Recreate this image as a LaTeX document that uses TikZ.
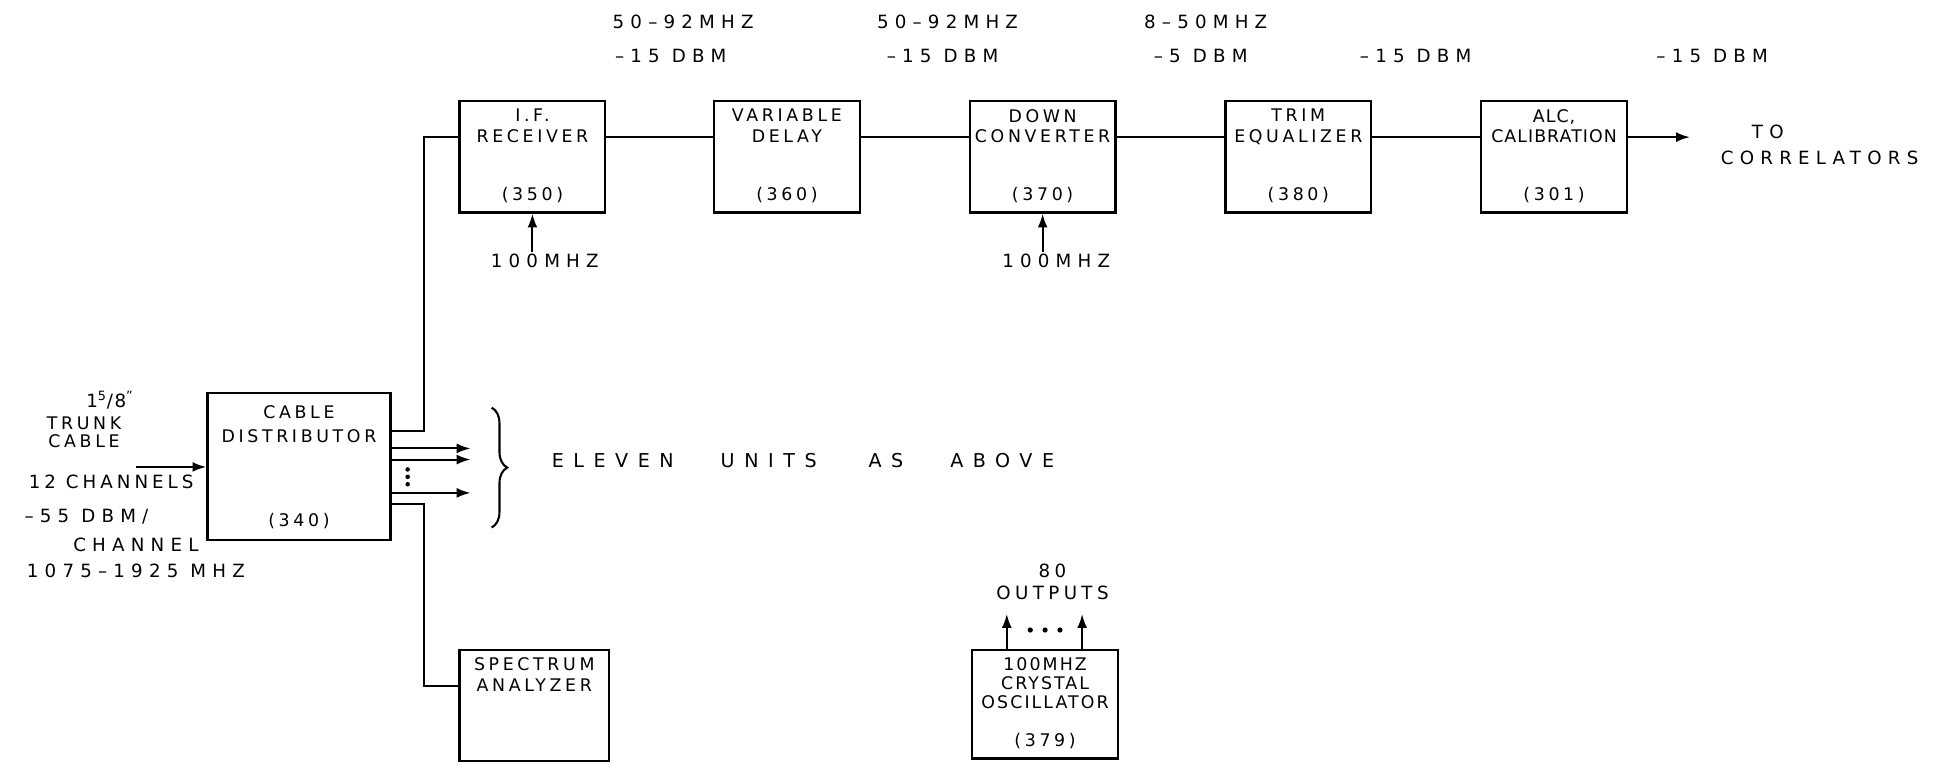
\documentclass[tikz,border=0pt]{standalone}
\usepackage{fontspec}
\setmainfont{DejaVu Sans}[LetterSpace=21]
\usepackage{tikz}
\usetikzlibrary{positioning,arrows.meta,decorations.pathreplacing,calc}

\begin{document}
\begin{tikzpicture}[
  x=0.025cm, y=-0.025cm,
  every node/.style={font=\fontsize{10}{12}\selectfont, align=center, inner sep=1pt},
  unitbox/.style={rectangle, draw, line width=1.3pt, minimum width=2.95cm,
                  minimum height=2.25cm, inner sep=0pt},
  wire/.style={line width=1.2pt},
  sig/.style={line width=1.2pt, -{Latex[length=2.8mm,width=2mm]}},
  hand/.style={font=\fontsize{10.5}{13}\selectfont\addfontfeatures{LetterSpace=34}}
]
  \useasboundingbox (0,0) rectangle (1568,618);

  \node[unitbox] (ifr) at (431,127) {};
  \node[unitbox] (vdl) at (637,127) {};
  \node[unitbox] (dcv) at (844,127) {};
  \node[unitbox] (teq) at (1051,127) {};
  \node[unitbox] (alc) at (1258,127) {};
  \node[unitbox, minimum width=3.7cm, minimum height=2.975cm] (cdist) at (242,377.5) {};
  \node[unitbox, minimum width=3.025cm] (spec) at (432.5,571) {};
  \node[unitbox, minimum height=2.2cm] (xtal) at (846,570) {};

  \node[below=4pt of ifr.north]   (ifrname) {I.F.\\RECEIVER};
  \node[above=5pt of ifr.south]   (ifrnum)  {(350)};
  \node[below=4pt of vdl.north]   (vdlname) {VARIABLE\\DELAY};
  \node[above=5pt of vdl.south]   (vdlnum)  {(360)};
  \node[below=4pt of dcv.north]   (dcvname) {DOWN\\CONVERTER};
  \node[above=5pt of dcv.south]   (dcvnum)  {(370)};
  \node[below=4pt of teq.north]   (teqname) {TRIM\\EQUALIZER};
  \node[above=5pt of teq.south]   (teqnum)  {(380)};
  \node[below=4pt of alc.north, font=\fontsize{10}{12}\selectfont\addfontfeatures{LetterSpace=6}] (alcname) {ALC,\\CALIBRATION};
  \node[above=5pt of alc.south]   (alcnum)  {(301)};
  \node[below=7pt of cdist.north, font=\fontsize{10}{13.5}\selectfont] (cdname) {CABLE\\DISTRIBUTOR};
  \node[above=6pt of cdist.south] (cdnum)   {(340)};
  \node[below=4pt of spec.north]  (specname) {SPECTRUM\\ANALYZER};
  \node[below=4pt of xtal.north, font=\fontsize{10}{11}\selectfont\addfontfeatures{LetterSpace=12}] (xtalname) {100MHZ\\CRYSTAL\\OSCILLATOR};
  \node[above=5pt of xtal.south]  (xtalnum) {(379)};

  \node[hand] (f1) at (553,18) {50--92MHZ};
  \node[hand] (p1) at (543,45) {--15 DBM};
  \node[hand] (f2) at (767,18) {50--92MHZ};
  \node[hand] (p2) at (763,45) {--15 DBM};
  \node[hand] (f3) at (976,18) {8--50MHZ};
  \node[hand] (p3) at (972,45) {--5 DBM};
  \node[hand] (p4) at (1146,45) {--15 DBM};
  \node[hand] (p5) at (1386,45) {--15 DBM};

  \coordinate (sigline) at (0,111);
  \foreach \a/\b in {ifr/vdl, vdl/dcv, dcv/teq, teq/alc}
    \draw[wire] (\a.east |- sigline) -- (\b.west |- sigline);
  \coordinate (toc) at (1368,111);
  \draw[sig] (alc.east |- toc) -- (toc);
  \node[hand] (corrto) at (1431,107) {TO};
  \node[hand] (corr) at (1473,128) {CORRELATORS};

  \node[hand] (iflo) at (441,211) {100MHZ};
  \draw[sig] (ifr.south |- iflo.north) -- (ifr.south);
  \node[hand] (dclo) at (855,211) {100MHZ};
  \draw[sig] (dcv.south |- dclo.north) -- (dcv.south);

  \coordinate (busx) at (343,0);
  \coordinate (tapup) at (0,349);
  \coordinate (tapdn) at (0,408);
  \coordinate (specin) at (0,555);
  \draw[wire] (cdist.east |- tapup) -| (busx |- sigline) -- (ifr.west |- sigline);
  \draw[wire] (cdist.east |- tapdn) -| (busx |- specin) -- (spec.west |- specin);
  \foreach \yy in {363,372,399}
    \draw[sig] (cdist.east |- 0,\yy) -- ++(64,0);
  \foreach \yy in {380,386,392}
    \fill (330,\yy) circle (1.3pt);
  \draw[wire, decorate, decoration={brace, amplitude=9pt}] (398,330) -- (398,427);
  \node[font=\fontsize{11}{13}\selectfont\addfontfeatures{LetterSpace=50}] (eleven) at (650,373)
    {ELEVEN\hspace{0.95cm}UNITS\hspace{1.05cm}AS\hspace{0.95cm}ABOVE};

  \coordinate (trunk) at (110,378);
  \draw[sig] (trunk) -- (cdist.west |- trunk);
  \node[font=\fontsize{10.5}{13}\selectfont\addfontfeatures{LetterSpace=8}] (size) at (89,324) {1\textsuperscript{5}/8\textsuperscript{"}};
  \node[font=\fontsize{10}{10}\selectfont] (tcab)  at (68,350)  {TRUNK\\CABLE};
  \node[hand, font=\fontsize{10.5}{13}\selectfont\addfontfeatures{LetterSpace=22}] (nch) at (90,390) {12 CHANNELS};
  \node[hand] (lev)   at (70,418)  {--55 DBM/};
  \node[hand] (perch) at (110,441) {CHANNEL};
  \node[hand] (band)  at (110,462) {1075--1925 MHZ};

  \coordinate (outl) at (815,497);
  \coordinate (outr) at (876,497);
  \draw[sig] (xtal.north -| outl) -- (outl);
  \draw[sig] (xtal.north -| outr) -- (outr);
  \foreach \xx in {834,846,858}
    \fill (\xx,510) circle (1.5pt);
  \node[hand, font=\fontsize{10.5}{12.5}\selectfont\addfontfeatures{LetterSpace=24}] (nout) at (852,471) {80\\OUTPUTS};
\end{tikzpicture}
\end{document}
